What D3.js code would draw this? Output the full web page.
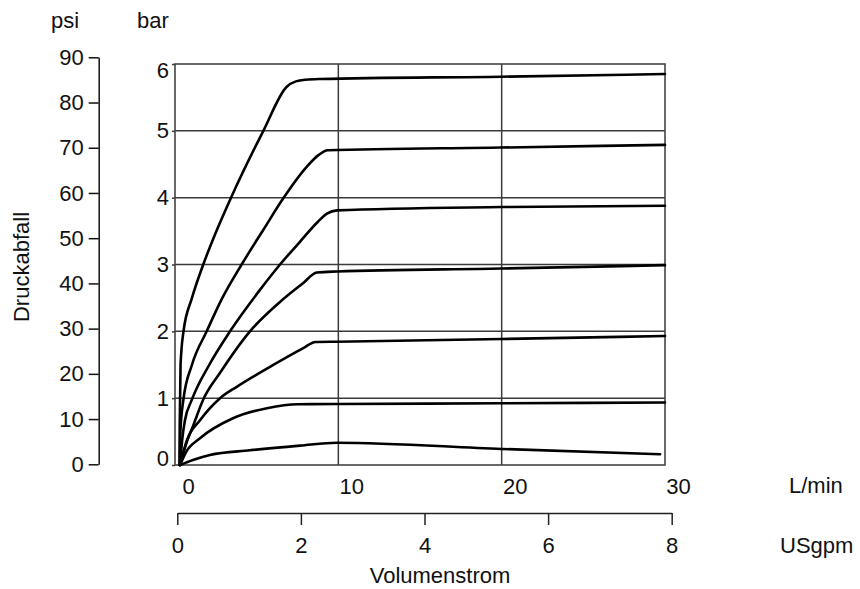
<!DOCTYPE html>
<html>
<head>
<meta charset="utf-8">
<script src="https://cdn.jsdelivr.net/npm/d3@7"></script>
<style>
  body { margin: 0; background: #fff; }
  svg text { font-family: "Liberation Sans", Arial, sans-serif; font-size: 22px; fill: #111; }
</style>
</head>
<body>
<svg id="chart" width="860" height="589"></svg>
<script>
// Tick values for the four axes
const barTicks  = [0, 1, 2, 3, 4, 5, 6];
const psiTicks  = [0, 10, 20, 30, 40, 50, 60, 70, 80, 90];
const lminTicks = [0, 10, 20, 30];
const gpmTicks  = [0, 2, 4, 6, 8];

// Pressure drop curves: [flow L/min, pressure drop bar]
const curve1 = [[0.27,0],[0.29,0.6],[0.34,1.5],[0.52,2.0],[1.04,2.5],[1.73,3.0],[2.57,3.52],[3.43,4.0],[5.41,5.0],[6.84,5.66],[7.4,5.74],[8.0,5.765],[8.88,5.775],[20.0,5.81],[30.0,5.85]];
const curve2 = [[0.31,0],[0.33,0.5],[0.51,0.97],[1.04,1.5],[1.94,2.0],[2.9,2.5],[4.08,3.0],[5.41,3.52],[6.63,3.99],[8.06,4.46],[8.8,4.64],[9.35,4.71],[20.0,4.75],[30.0,4.79]];
const curve3 = [[0.31,0],[0.45,0.4],[0.61,0.67],[1.02,0.97],[2.1,1.5],[3.37,2.0],[5.2,2.62],[6.43,3.0],[7.65,3.34],[8.75,3.64],[9.3,3.76],[9.92,3.81],[20.0,3.86],[30.0,3.88]];
const curve4 = [[0.31,0],[0.66,0.3],[1.13,0.6],[1.71,0.97],[2.76,1.38],[4.59,2.0],[6.43,2.44],[7.84,2.72],[8.68,2.88],[9.92,2.895],[20.0,2.94],[30.0,2.99]];
const curve5 = [[0.31,0],[0.73,0.37],[1.53,0.67],[2.76,1.0],[3.78,1.17],[5.82,1.47],[7.86,1.75],[8.6,1.84],[9.92,1.845],[20.0,1.885],[30.0,1.93]];
const curve6 = [[0.31,0],[0.67,0.19],[1.53,0.40],[3.55,0.70],[5.63,0.85],[7.53,0.91],[9.92,0.913],[20.0,0.923],[30.0,0.935]];
const curve7 = [[0.31,0],[1.10,0.075],[2.14,0.15],[4.59,0.22],[7.65,0.29],[9.92,0.334],[20.0,0.24],[29.7,0.16]];
const curves = [curve1, curve2, curve3, curve4, curve5, curve6, curve7];

const svg = d3.select("#chart");

const x   = d3.scaleLinear().domain([0, 30]).range([175, 665]);
const y   = d3.scaleLinear().domain([0, 6]).range([465, 64]);
const psi = d3.scaleLinear().domain([0, 90]).range([464.3, 57.3]);
const gpm = d3.scaleLinear().domain([0, 8]).range([177.3, 671.7]);

const gridColor = "#3a3a3a";

// Grid and frame
const grid = svg.append("g");
grid.selectAll("line.h").data(barTicks.filter(d => d > 0 && d < 6)).join("line")
  .attr("x1", x(0)).attr("x2", x(30))
  .attr("y1", d => y(d)).attr("y2", d => y(d))
  .attr("stroke", gridColor).attr("stroke-width", 1.5);
grid.selectAll("line.v").data(lminTicks.filter(d => d > 0 && d < 30)).join("line")
  .attr("x1", d => x(d)).attr("x2", d => x(d))
  .attr("y1", y(0)).attr("y2", y(6))
  .attr("stroke", gridColor).attr("stroke-width", 1.5);
grid.append("rect")
  .attr("x", x(0)).attr("y", y(6))
  .attr("width", x(30) - x(0)).attr("height", y(0) - y(6))
  .attr("fill", "none").attr("stroke", "#444").attr("stroke-width", 1.6);

// bar axis
const barAxis = svg.append("g").attr("transform", `translate(${x(0)},0)`)
  .call(d3.axisLeft(y).tickValues(barTicks).tickFormat(d3.format("d"))
    .tickSize(3).tickPadding(3).tickSizeOuter(0));
barAxis.select(".domain").remove();
barAxis.selectAll(".tick line").attr("stroke", gridColor).attr("stroke-width", 1.5);
barAxis.selectAll(".tick text").attr("font-size", null)
  .attr("dy", d => d === 6 ? "0.6em" : d === 0 ? "0em" : "0.32em");

// psi axis
const psiAxis = svg.append("g").attr("transform", "translate(98.7,0)")
  .call(d3.axisLeft(psi).tickValues(psiTicks).tickSize(10).tickPadding(5).tickSizeOuter(0));
psiAxis.selectAll("path, line").attr("stroke", "#111").attr("stroke-width", 1.5);
psiAxis.selectAll(".tick text").attr("font-size", null);

// L/min labels
const lminAxis = svg.append("g").attr("transform", "translate(13,470)")
  .call(d3.axisBottom(x).tickValues(lminTicks).tickSize(0).tickPadding(8));
lminAxis.select(".domain").remove();
lminAxis.selectAll(".tick text").attr("font-size", null);

// USgpm axis
const gpmAxis = svg.append("g").attr("transform", "translate(0,513)")
  .call(d3.axisBottom(gpm).tickValues(gpmTicks).tickSize(12).tickPadding(12).tickSizeOuter(0));
gpmAxis.selectAll("path, line").attr("stroke", "#222").attr("stroke-width", 1.5);
gpmAxis.selectAll(".tick text").attr("font-size", null);

// Titles and units
svg.append("text").attr("x", 65).attr("y", 28).attr("text-anchor", "middle").text("psi");
svg.append("text").attr("x", 153).attr("y", 28).attr("text-anchor", "middle").text("bar");
svg.append("text").attr("x", 789).attr("y", 493).text("L/min");
svg.append("text").attr("x", 780).attr("y", 553).text("USgpm");
svg.append("text").attr("x", 440).attr("y", 583).attr("text-anchor", "middle").text("Volumenstrom");
svg.append("text").attr("transform", "translate(29,267) rotate(-90)")
  .attr("text-anchor", "middle").text("Druckabfall");

// Curves
const line = d3.line()
  .x(d => x(d[0])).y(d => y(d[1]))
  .curve(d3.curveMonotoneX);
svg.append("g").selectAll("path").data(curves).join("path")
  .attr("d", line)
  .attr("fill", "none").attr("stroke", "#000")
  .attr("stroke-width", 2.6).attr("stroke-linejoin", "round").attr("stroke-linecap", "round");
</script>
</body>
</html>
